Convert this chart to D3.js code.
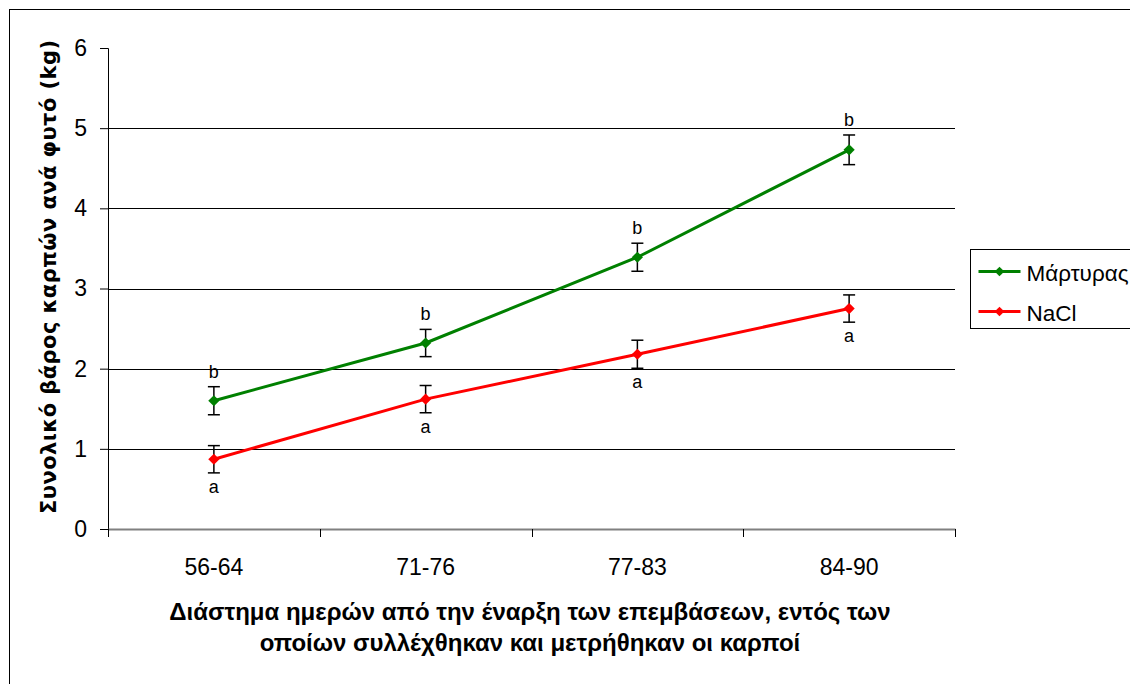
<!DOCTYPE html>
<html>
<head>
<meta charset="utf-8">
<script src="https://cdn.jsdelivr.net/npm/d3@7"></script>
<style>
  body { margin: 0; background: #fff; }
  svg { display: block; font-family: "Liberation Sans", Arial, sans-serif; }
</style>
</head>
<body>
<div id="chart"></div>
<script>
const W = 1130, H = 684;
const margin = { top: 48, left: 108, right: 175, bottom: 155 };

// data
const categories = ["56-64", "71-76", "77-83", "84-90"];
const controlValues = [1.60, 2.32, 3.39, 4.73];
const controlErr = [0.175, 0.17, 0.175, 0.185];
const controlLetters = ["b", "b", "b", "b"];
const naclValues = [0.87, 1.62, 2.18, 2.75];
const naclErr = [0.17, 0.17, 0.175, 0.17];
const naclLetters = ["a", "a", "a", "a"];
const yTicks = [0, 1, 2, 3, 4, 5, 6];
const seriesNames = ["Μάρτυρας", "NaCl"];
const seriesColors = ["#008000", "#ff0000"];

const series = [
  { name: seriesNames[0], color: seriesColors[0], values: controlValues, err: controlErr, letters: controlLetters, above: true },
  { name: seriesNames[1], color: seriesColors[1], values: naclValues, err: naclErr, letters: naclLetters, above: false }
];

const svg = d3.select("#chart").append("svg")
  .attr("width", W).attr("height", H);

// outer frame
svg.append("rect")
  .attr("x", 9.5).attr("y", 9.5)
  .attr("width", W).attr("height", H)
  .attr("fill", "none").attr("stroke", "#000").attr("stroke-width", 1);

const plotW = 955 - margin.left, plotH = 529 - margin.top;

const x = d3.scaleBand().domain(categories).range([0, plotW]);
const y = d3.scaleLinear().domain([0, 6]).range([plotH, 0]);

const g = svg.append("g").attr("transform", `translate(${margin.left},${margin.top})`);

// gridlines
g.selectAll(".grid").data(yTicks.filter(d => d > 0 && d < 6)).enter()
  .append("line")
  .attr("x1", 0).attr("x2", plotW)
  .attr("y1", d => Math.round(y(d)) + 0.5).attr("y2", d => Math.round(y(d)) + 0.5)
  .attr("stroke", "#000").attr("stroke-width", 1);

// y axis
const yAxis = g.append("g")
  .call(d3.axisLeft(y).tickValues(yTicks).tickSize(8).tickPadding(13).tickFormat(d3.format("d")));
yAxis.select(".domain").attr("stroke", "#000");
yAxis.selectAll("text").style("font-size", "23px").attr("fill", "#000");

// x axis
const xAxis = g.append("g").attr("transform", `translate(0,${plotH})`)
  .call(d3.axisBottom(x).tickSize(0).tickPadding(30));
xAxis.select(".domain").attr("stroke", "#808080").attr("stroke-width", 2);
xAxis.selectAll("text").style("font-size", "23px").attr("fill", "#000");
// tick marks at band boundaries
g.selectAll(".xtick").data(categories.map((c, i) => i).concat([categories.length])).enter()
  .append("line")
  .attr("x1", i => Math.round(i * x.step()) + 0.5).attr("x2", i => Math.round(i * x.step()) + 0.5)
  .attr("y1", plotH).attr("y2", plotH + 8)
  .attr("stroke", "#000");

const cx = c => x(c) + x.bandwidth() / 2;

const line = d3.line().x((d, i) => cx(categories[i])).y(d => y(d));

series.forEach(s => {
  const sg = g.append("g");
  // error bars
  s.values.forEach((v, i) => {
    const xc = cx(categories[i]);
    sg.append("line")
      .attr("x1", xc).attr("x2", xc)
      .attr("y1", y(v + s.err[i])).attr("y2", y(v - s.err[i]))
      .attr("stroke", "#000").attr("stroke-width", 1.5);
    [v + s.err[i], v - s.err[i]].forEach(e => {
      sg.append("line")
        .attr("x1", xc - 6).attr("x2", xc + 6)
        .attr("y1", y(e)).attr("y2", y(e))
        .attr("stroke", "#000").attr("stroke-width", 1.5);
    });
  });
  sg.append("path").datum(s.values)
    .attr("d", line).attr("fill", "none")
    .attr("stroke", s.color).attr("stroke-width", 3);
  sg.selectAll(".pt").data(s.values).enter().append("path")
    .attr("d", d3.symbol(d3.symbolDiamond2, 80))
    .attr("transform", (d, i) => `translate(${cx(categories[i])},${y(d)})`)
    .attr("fill", s.color);
  // significance letters
  sg.selectAll(".lt").data(s.values).enter().append("text")
    .attr("x", (d, i) => cx(categories[i]))
    .attr("y", (d, i) => s.above ? y(d + s.err[i]) - 9 : y(d - s.err[i]) + 20)
    .attr("text-anchor", "middle")
    .style("font-size", "18px")
    .text((d, i) => s.letters[i]);
});

// y title
svg.append("text")
  .attr("transform", "translate(56,277) rotate(-90)")
  .attr("text-anchor", "middle")
  .style("font-family", "'DejaVu Sans', Verdana, sans-serif")
  .style("font-weight", "bold")
  .style("font-size", "21px")
  .attr("textLength", 474).attr("lengthAdjust", "spacing")
  .text("Συνολικό βάρος καρπών ανά φυτό (kg)");

// x title
const xt = svg.append("text")
  .attr("x", 530).attr("text-anchor", "middle")
  .style("font-weight", "bold").style("font-size", "24px");
xt.append("tspan").attr("x", 530).attr("y", 620)
  .text("Διάστημα ημερών από την έναρξη των επεμβάσεων, εντός των");
xt.append("tspan").attr("x", 530).attr("y", 651)
  .text("οποίων συλλέχθηκαν και μετρήθηκαν οι καρποί");

// legend
const lg = svg.append("g").attr("transform", "translate(970.5,249.5)");
lg.append("rect").attr("width", 200).attr("height", 79)
  .attr("fill", "#fff").attr("stroke", "#000");
series.forEach((s, i) => {
  const ly = 22 + i * 40;
  lg.append("line").attr("x1", 8).attr("x2", 50).attr("y1", ly).attr("y2", ly)
    .attr("stroke", s.color).attr("stroke-width", 3);
  lg.append("path").attr("d", d3.symbol(d3.symbolDiamond2, 60))
    .attr("transform", `translate(29,${ly})`).attr("fill", s.color);
  lg.append("text").attr("x", 56).attr("y", ly + 9)
    .style("font-size", "22.5px").text(s.name);
});
</script>
</body>
</html>
